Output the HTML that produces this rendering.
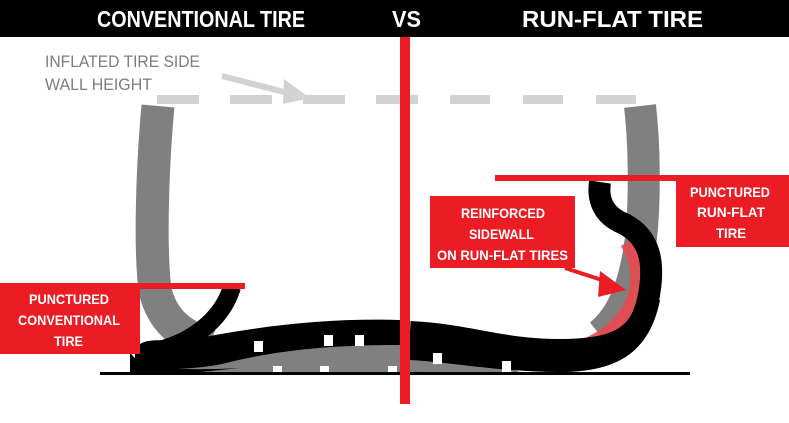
<!DOCTYPE html>
<html><head><meta charset="utf-8"><style>
html,body{margin:0;padding:0;background:#fff;}
svg{display:block;}
text{font-family:"Liberation Sans Narrow","Liberation Sans",sans-serif;font-weight:bold;}
</style></head><body>
<svg width="789" height="423" viewBox="0 0 789 423" xmlns="http://www.w3.org/2000/svg">
<rect width="789" height="423" fill="#fff"/>
<rect x="0" y="0" width="789" height="37" fill="#000"/>
<text x="97" y="27" fill="#fff" font-size="23" textLength="208" lengthAdjust="spacingAndGlyphs">CONVENTIONAL TIRE</text>
<text x="392" y="27" fill="#fff" font-size="23" textLength="29" lengthAdjust="spacingAndGlyphs">VS</text>
<text x="522" y="27" fill="#fff" font-size="23" textLength="181" lengthAdjust="spacingAndGlyphs">RUN-FLAT TIRE</text>

<!-- dashes -->
<g fill="#d2d2d2">
<rect x="157" y="95" width="42" height="9"/><rect x="230" y="95" width="42" height="9"/>
<rect x="303" y="95" width="42" height="9"/><rect x="376" y="95" width="42" height="9"/>
<rect x="450" y="95" width="40" height="9"/><rect x="523" y="95" width="40" height="9"/>
<rect x="596" y="95" width="40" height="9"/>
</g>
<text x="45" y="67" fill="#7d7d7d" font-size="17" style="font-weight:normal" textLength="155" lengthAdjust="spacingAndGlyphs">INFLATED TIRE SIDE</text>
<text x="45" y="90" fill="#7d7d7d" font-size="17" style="font-weight:normal" textLength="107" lengthAdjust="spacingAndGlyphs">WALL HEIGHT</text>
<line x1="222" y1="76" x2="292" y2="94" stroke="#d2d2d2" stroke-width="6"/>
<polygon points="284,79 310,98 283,104" fill="#d2d2d2"/>

<!-- left gray sidewall -->
<path d="M158,106 C152,170 150,250 155,290 C162,320 180,335 210,345" fill="none" stroke="#808080" stroke-width="33"/>
<!-- gray tread under -->
<path d="M150,360 C220,335 330,330 400,338 L400,372 L140,372 Z" fill="#808080"/>
<path d="M410,345 C460,350 500,365 520,372 L410,372 Z" fill="#808080"/>
<!-- right gray sidewall -->
<path d="M640,106 C645,150 645,210 640,245 C635,280 625,315 600,335" fill="none" stroke="#808080" stroke-width="32"/>
<!-- red reinforced -->
<path d="M630,240 C650,270 648,320 590,348" fill="none" stroke="#e8484e" stroke-width="22" opacity="0.9"/>

<!-- left black tire -->
<path d="M232,287 C222,320 190,345 150,352" fill="none" stroke="#000" stroke-width="18"/>
<path d="M135,355 C135,340 150,338 180,342 C260,325 330,318 400,320 L400,345 C330,345 280,350 230,362 C200,370 150,372 135,362 Z" fill="#000"/>
<path d="M130,352 C140,372 200,370 240,368 L200,372 L130,372 Z" fill="#000"/>
<!-- right black tire -->
<path d="M410,332 C470,335 500,350 560,350 C620,350 640,335 648,300 C656,262 650,235 620,222 C600,212 598,195 600,182" fill="none" stroke="#000" stroke-width="22"/>
<path d="M410,335 L410,360 C450,362 500,372 560,372 C620,372 650,350 660,300 L640,300 C630,335 600,345 560,345 C500,345 460,332 410,330 Z" fill="#000"/>
<!-- white squares -->
<g fill="#fff">
<rect x="254" y="341" width="9" height="11"/><rect x="324" y="335" width="9" height="11"/>
<rect x="273" y="366" width="9" height="6"/><rect x="320" y="366" width="9" height="6"/>
<rect x="355" y="335" width="9" height="11"/><rect x="388" y="366" width="9" height="6"/>
<rect x="433" y="353" width="9" height="11"/><rect x="502" y="361" width="9" height="11"/>
</g>
<!-- ground -->
<rect x="100" y="372" width="590" height="3" fill="#000"/>

<!-- center red line -->
<rect x="400" y="37" width="10" height="367" fill="#ec1c24"/>

<!-- left label -->
<rect x="140" y="283" width="105" height="6" fill="#ec1c24"/>
<rect x="0" y="283" width="140" height="71" fill="#ec1c24"/>
<g fill="#fff" font-size="14">
<text x="29" y="304" textLength="80" lengthAdjust="spacingAndGlyphs">PUNCTURED</text>
<text x="18" y="325" textLength="102" lengthAdjust="spacingAndGlyphs">CONVENTIONAL</text>
<text x="54" y="346" textLength="29" lengthAdjust="spacingAndGlyphs">TIRE</text>
</g>
<!-- right label -->
<rect x="495" y="175" width="195" height="6" fill="#ec1c24"/>
<rect x="676" y="175" width="113" height="72" fill="#ec1c24"/>
<g fill="#fff" font-size="14">
<text x="690" y="197" textLength="80" lengthAdjust="spacingAndGlyphs">PUNCTURED</text>
<text x="697" y="217" textLength="68" lengthAdjust="spacingAndGlyphs">RUN-FLAT</text>
<text x="716" y="238" textLength="30" lengthAdjust="spacingAndGlyphs">TIRE</text>
</g>
<!-- middle label -->
<rect x="430" y="196" width="145" height="72" fill="#ec1c24"/>
<g fill="#fff" font-size="14">
<text x="461" y="218" textLength="84" lengthAdjust="spacingAndGlyphs">REINFORCED</text>
<text x="469" y="239" textLength="65" lengthAdjust="spacingAndGlyphs">SIDEWALL</text>
<text x="437" y="260" textLength="131" lengthAdjust="spacingAndGlyphs">ON RUN-FLAT TIRES</text>
</g>
<line x1="565" y1="268" x2="608" y2="282" stroke="#ec1c24" stroke-width="4"/>
<polygon points="600,271 626,290 598,297" fill="#ec1c24"/>
</svg>
</body></html>
